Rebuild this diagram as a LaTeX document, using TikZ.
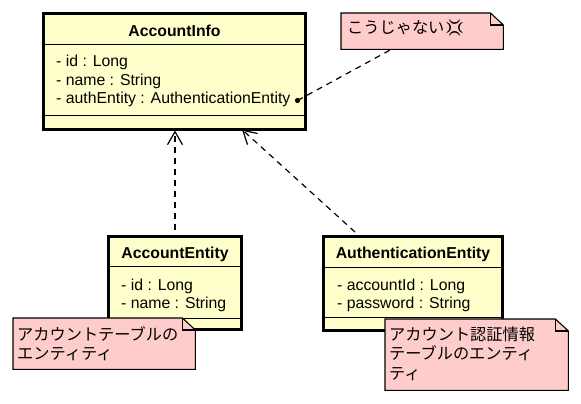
\documentclass[tikz,border=0pt]{standalone}
\usepackage{fontspec}
\setmainfont{Liberation Sans}
\newfontfamily\jpfont{Noto Sans CJK JP}
\newfontfamily\emofont{Noto Emoji}
\usetikzlibrary{arrows.meta}
\definecolor{clsfill}{RGB}{255,255,204}
\definecolor{notefill}{RGB}{255,204,204}
\tikzset{
  clsbox/.style={draw=black, line width=3pt, fill=clsfill, inner sep=0pt},
  sepline/.style={line width=0.9pt},
  hdr/.style={font=\fontsize{15.8}{18}\selectfont\bfseries, inner sep=0pt, anchor=base},
  attr/.style={font=\fontsize{15.8}{18}\selectfont, inner sep=0pt, anchor=base west},
  notebox/.style={inner sep=0pt, anchor=north west},
  notedraw/.style={draw=black, line width=1.1pt, fill=notefill},
  notetxt/.style={font=\jpfont\fontsize{16.2}{18}\selectfont, inner sep=0pt, anchor=base west},
  dep/.style={line width=1.2pt, dash pattern=on 6pt off 5pt, -{Straight Barb[length=13pt,width=15pt,line width=1.2pt]}},
  anchorline/.style={line width=1.2pt, dash pattern=on 6pt off 5pt}
}
\begin{document}
\begin{tikzpicture}[x=1pt,y=-1pt]
\useasboundingbox (0,0) rectangle (581,404);

% AccountInfo
\node[clsbox, minimum width=262pt, minimum height=115pt] (ai) at (174.5,71.5) {};
\draw[sepline] (44,44) -- (305,44);
\draw[sepline] (44,115) -- (305,115);
\node[hdr] (aih) at (174.5,36.5) {AccountInfo};
\node[attr] (ai1) at (56,66.5) {- id : Long};
\node[attr] (ai2) at (56,85) {- name : String};
\node[attr] (ai3) at (56,103.5) {- authEntity : AuthenticationEntity};
\coordinate (dot) at (297.5,100.5);

% AccountEntity
\node[clsbox, minimum width=133pt, minimum height=93pt] (ae) at (175,283) {};
\draw[sepline] (110,266) -- (240,266);
\draw[sepline] (110,318) -- (240,318);
\node[hdr] (aeh) at (175,258.3) {AccountEntity};
\node[attr] (ae1) at (121,290) {- id : Long};
\node[attr] (ae2) at (121,308.3) {- name : String};

% AuthenticationEntity
\node[clsbox, minimum width=179pt, minimum height=94pt] (aue) at (413,283.5) {};
\draw[sepline] (325,267) -- (501,267);
\draw[sepline] (325,317) -- (501,317);
\node[hdr] (aueh) at (413,258.3) {AuthenticationEntity};
\node[attr] (aue1) at (337,290) {- accountId : Long};
\node[attr] (aue2) at (337,308.5) {- password : String};

% dependencies
\coordinate (d2s) at (355,232);
\coordinate (d2e) at (242,129.5);
\draw[dep, shorten <=5pt] (ae.north) -- (ae.north |- ai.south);
\draw[dep] (d2s) -- (d2e);

% note 1
\node[notebox, minimum width=162pt, minimum height=36pt] (n1) at (341,13) {};
\draw[notedraw] (n1.north west) -- ([xshift=-13pt]n1.north east) -- ([yshift=-12pt]n1.north east) -- (n1.south east) -- (n1.south west) -- cycle;
\draw[line width=1.1pt] ([xshift=-13pt]n1.north east) -- ([xshift=-13pt,yshift=-12pt]n1.north east) -- ([yshift=-12pt]n1.north east);
\node[notetxt] (n1t) at (347,33.5) {こうじゃない{\emofont 💢}};
\coordinate (n1a) at (392,49);
\draw[anchorline] (dot) -- (n1a);
\fill (dot) circle (2.6pt);

% note 2
\node[notebox, minimum width=182pt, minimum height=51pt] (n2) at (13,318) {};
\draw[notedraw] (n2.north west) -- ([xshift=-13pt]n2.north east) -- ([yshift=-12pt]n2.north east) -- (n2.south east) -- (n2.south west) -- cycle;
\draw[line width=1.1pt] ([xshift=-13pt]n2.north east) -- ([xshift=-13pt,yshift=-12pt]n2.north east) -- ([yshift=-12pt]n2.north east);
\node[notetxt] (n2t1) at (17,340) {アカウントテーブルの};
\node[notetxt] (n2t2) at (17,359.5) {エンティティ};

% note 3
\node[notebox, minimum width=183pt, minimum height=71pt] (n3) at (385,319) {};
\draw[notedraw] (n3.north west) -- ([xshift=-13pt]n3.north east) -- ([yshift=-12pt]n3.north east) -- (n3.south east) -- (n3.south west) -- cycle;
\draw[line width=1.1pt] ([xshift=-13pt]n3.north east) -- ([xshift=-13pt,yshift=-12pt]n3.north east) -- ([yshift=-12pt]n3.north east);
\node[notetxt] (n3t1) at (389,340) {アカウント認証情報};
\node[notetxt] (n3t2) at (389,359.5) {テーブルのエンティ};
\node[notetxt] (n3t3) at (389,379) {ティ};
\end{tikzpicture}
\end{document}
